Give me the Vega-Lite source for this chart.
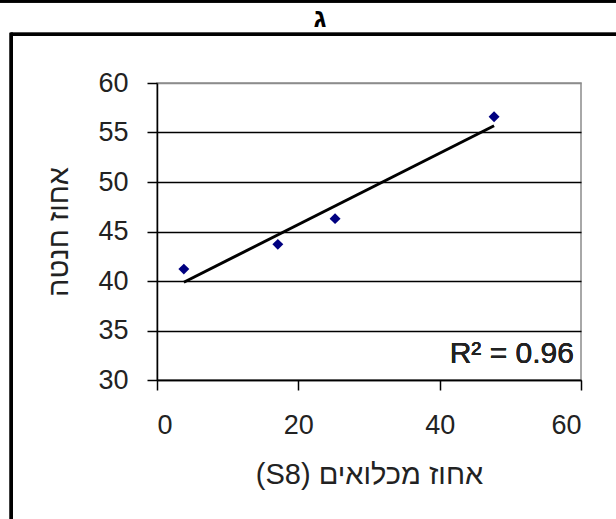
{
  "$schema": "https://vega.github.io/schema/vega-lite/v6.json",
  "width": 424,
  "height": 297,
  "autosize": {"type": "none"},
  "padding": {"left": 157, "top": 83, "right": 35, "bottom": 139},
  "background": "white",
  "title": {
    "text": "ג",
    "anchor": "middle",
    "dx": -49,
    "offset": 0,
    "dy": 33,
    "font": "Liberation Sans",
    "fontSize": 27,
    "fontWeight": "bold",
    "color": "black"
  },
  "config": {
    "view": {"stroke": "#8c8c8c", "strokeWidth": 1.5},
    "font": "Liberation Sans"
  },
  "data": {
    "values": [
      {"s8": 3.8, "fruitset": 41.2},
      {"s8": 17.1, "fruitset": 43.7},
      {"s8": 25.2, "fruitset": 46.3},
      {"s8": 47.7, "fruitset": 56.6}
    ]
  },
  "layer": [
    {
      "mark": {"type": "rule", "color": "black", "strokeWidth": 3, "clip": false},
      "encoding": {
        "x": {"datum": -25, "type": "quantitative"},
        "x2": {"datum": 80},
        "y": {"datum": 68.28, "type": "quantitative"}
      }
    },
    {
      "mark": {"type": "rule", "color": "black", "strokeWidth": 3, "clip": false},
      "encoding": {
        "x": {"datum": -20.63, "type": "quantitative"},
        "x2": {"datum": 80},
        "y": {"datum": 64.93, "type": "quantitative"}
      }
    },
    {
      "mark": {"type": "rule", "color": "black", "strokeWidth": 3, "clip": false},
      "encoding": {
        "x": {"datum": -20.63, "type": "quantitative"},
        "y": {"datum": 65.08, "type": "quantitative"},
        "y2": {"datum": 5}
      }
    },
    {
      "mark": {"type": "point", "shape": "diamond", "filled": true, "color": "#000080", "size": 120, "opacity": 1},
      "encoding": {
        "x": {
          "field": "s8",
          "type": "quantitative",
          "scale": {"domain": [0, 60], "nice": false, "zero": false},
          "axis": {
            "title": "(S8) אחוז מכלואים",
            "values": [0, 20, 40, 60],
            "grid": false,
            "domainColor": "black",
            "domainWidth": 1.5,
            "tickColor": "black",
            "tickWidth": 1.5,
            "tickSize": 10,
            "labelFontSize": 27,
            "labelColor": "#222222",
            "labelPadding": 22,
            "labelFont": "Liberation Sans",
            "titleFont": "Liberation Sans",
            "titleFontSize": 29,
            "titleFontWeight": "normal",
            "titleColor": "#222222",
            "titlePadding": 22
          }
        },
        "y": {
          "field": "fruitset",
          "type": "quantitative",
          "scale": {"domain": [30, 60], "nice": false, "zero": false},
          "axis": {
            "title": "אחוז חנטה",
            "values": [30, 35, 40, 45, 50, 55, 60],
            "grid": true,
            "gridColor": {"condition": {"test": "datum.value === 60", "value": "#8c8c8c"}, "value": "black"},
            "gridWidth": 1.3,
            "domainColor": "black",
            "domainWidth": 1.5,
            "tickColor": "black",
            "tickWidth": 1.5,
            "tickSize": 10,
            "labelFontSize": 27,
            "labelColor": "#222222",
            "labelPadding": 19,
            "labelFont": "Liberation Sans",
            "titleFont": "Liberation Sans",
            "titleFontSize": 29,
            "titleFontWeight": "normal",
            "titleColor": "#222222",
            "titlePadding": 24
          }
        }
      }
    },
    {
      "transform": [{"regression": "fruitset", "on": "s8"}],
      "mark": {"type": "line", "color": "black", "strokeWidth": 3},
      "encoding": {
        "x": {"field": "s8", "type": "quantitative"},
        "y": {"field": "fruitset", "type": "quantitative"}
      }
    },
    {
      "mark": {"type": "text", "text": "R² = 0.96", "align": "right", "baseline": "middle", "fontSize": 30, "fontWeight": "normal", "font": "Liberation Sans", "color": "#222222"},
      "encoding": {
        "x": {"datum": 59.0, "type": "quantitative"},
        "y": {"datum": 32.6, "type": "quantitative"}
      }
    }
  ]
}
